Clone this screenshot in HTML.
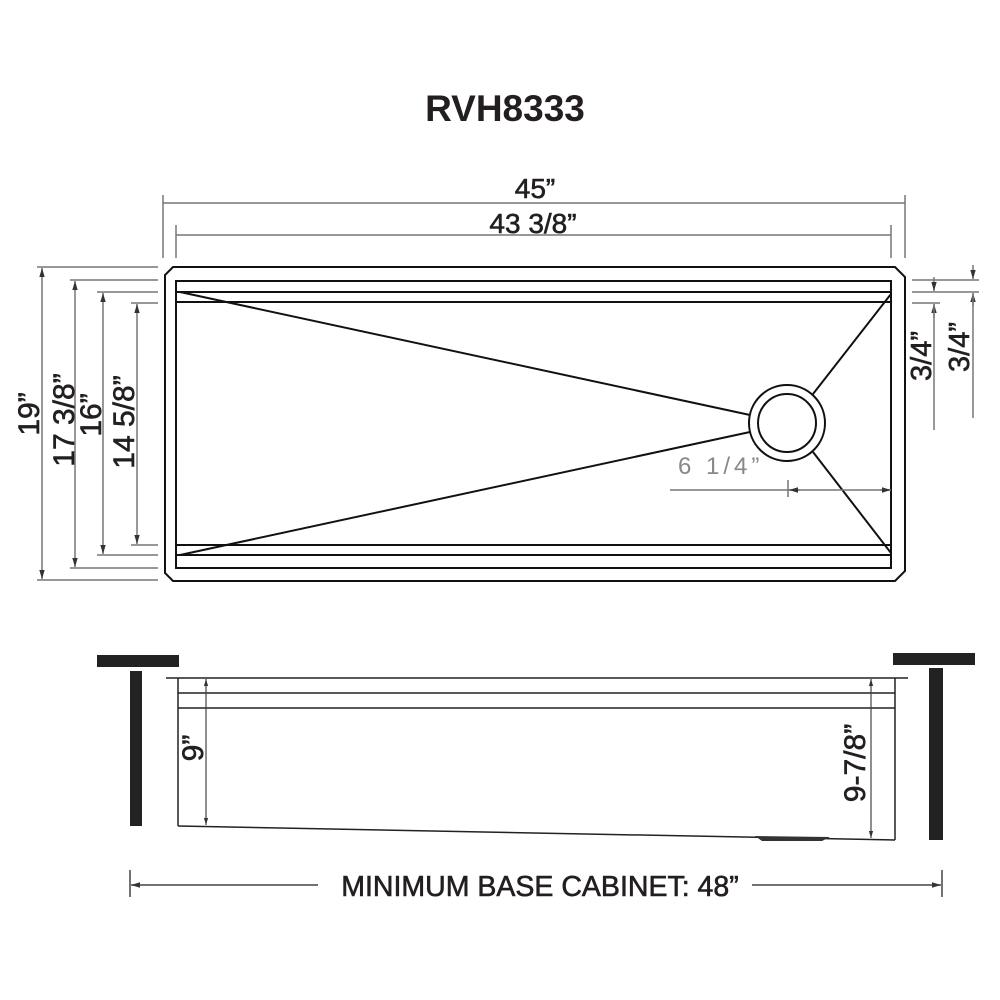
<!DOCTYPE html>
<html><head><meta charset="utf-8"><style>
html,body{margin:0;padding:0;background:#fff;}
svg{display:block;}
text{font-family:"Liberation Sans",sans-serif;fill:#231f20;}
.m{stroke:#231f20;stroke-width:0.6;}
</style></head><body>
<svg width="1000" height="1000" viewBox="0 0 1000 1000" xmlns="http://www.w3.org/2000/svg">
<defs>
<marker id="a" viewBox="0 0 10 10" refX="10" refY="5" markerWidth="6" markerHeight="6" orient="auto-start-reverse"><path d="M0,2 L10,5 L0,8 z" fill="#333"/></marker>
</defs>
<text x="505" y="121" font-size="37" font-weight="bold" text-anchor="middle">RVH8333</text>

<!-- top dims -->
<g stroke="#777" stroke-width="1.5" fill="none">
<line x1="163" y1="195" x2="163" y2="258"/><line x1="905" y1="195" x2="905" y2="258"/>
<line x1="163" y1="203" x2="905" y2="203"/>
<line x1="176" y1="225" x2="176" y2="258"/><line x1="891" y1="225" x2="891" y2="258"/>
<line x1="176" y1="235" x2="891" y2="235"/>
</g>
<text class="m" x="535" y="198" font-size="28" text-anchor="middle">45”</text>
<text class="m" x="533" y="233" font-size="28" text-anchor="middle">43 3/8”</text>

<!-- left dims -->
<g stroke="#777" stroke-width="1.5" fill="none">
<line x1="37" y1="267" x2="158" y2="267"/><line x1="37" y1="580" x2="158" y2="580"/>
<line x1="42" y1="268" x2="42" y2="579" marker-start="url(#a)" marker-end="url(#a)"/>
<line x1="70" y1="280" x2="158" y2="280"/><line x1="70" y1="568" x2="158" y2="568"/>
<line x1="75" y1="281" x2="75" y2="567" marker-start="url(#a)" marker-end="url(#a)"/>
<line x1="97" y1="292" x2="158" y2="292"/><line x1="97" y1="555" x2="158" y2="555"/>
<line x1="103" y1="293" x2="103" y2="554" marker-start="url(#a)" marker-end="url(#a)"/>
<line x1="131" y1="303" x2="158" y2="303"/><line x1="131" y1="545" x2="158" y2="545"/>
<line x1="137" y1="304" x2="137" y2="544" marker-start="url(#a)" marker-end="url(#a)"/>
</g>
<text class="m" font-size="30" text-anchor="middle" transform="translate(39,414) rotate(-90)">19”</text>
<text class="m" font-size="30" text-anchor="middle" transform="translate(74,420) rotate(-90)">17 3/8”</text>
<text class="m" font-size="30" text-anchor="middle" transform="translate(101,415) rotate(-90)">16”</text>
<text class="m" font-size="30" text-anchor="middle" transform="translate(134,422) rotate(-90)">14 5/8”</text>

<!-- right dims -->
<g stroke="#777" stroke-width="1.5" fill="none">
<line x1="912" y1="280" x2="979" y2="280"/>
<line x1="912" y1="292" x2="979" y2="292"/>
<line x1="912" y1="303" x2="940" y2="303"/>
<line x1="934" y1="277" x2="934" y2="291" marker-end="url(#a)"/>
<line x1="934" y1="318" x2="934" y2="304" marker-end="url(#a)"/>
<line x1="934" y1="304" x2="934" y2="430"/>
<line x1="973" y1="265" x2="973" y2="279" marker-end="url(#a)"/>
<line x1="973" y1="306" x2="973" y2="293" marker-end="url(#a)"/>
<line x1="973" y1="293" x2="973" y2="418"/>
</g>
<text class="m" font-size="29" text-anchor="middle" transform="translate(931,356) rotate(-90)">3/4”</text>
<text class="m" font-size="29" text-anchor="middle" transform="translate(969,347) rotate(-90)">3/4”</text>

<!-- top view sink -->
<g stroke="#111" stroke-width="2" fill="none">
<polygon points="173,267 895,267 905,277 905,571 895,581 173,581 165,573 165,275"/>
<rect x="176" y="281" width="715" height="287"/>
<line x1="176" y1="292" x2="891" y2="292"/>
<line x1="176" y1="302" x2="891" y2="302"/>
<line x1="176" y1="545" x2="891" y2="545"/>
<line x1="176" y1="555" x2="891" y2="555"/>
<line x1="180" y1="292" x2="750" y2="415"/>
<line x1="180" y1="555" x2="750" y2="432"/>
<line x1="891" y1="294" x2="813" y2="394"/>
<line x1="891" y1="553" x2="813" y2="452"/>
<circle cx="787" cy="423" r="38"/>
<circle cx="787" cy="423" r="29"/>
</g>
<text x="678" y="474" font-size="24" fill="#888" style="fill:#888;letter-spacing:4px">6 1/4”</text>
<g stroke="#777" stroke-width="1.5" fill="none">
<line x1="670" y1="490" x2="891" y2="490"/>
<line x1="788" y1="480" x2="788" y2="497"/>
<line x1="800" y1="490" x2="789" y2="490" marker-end="url(#a)"/>
<line x1="880" y1="490" x2="891" y2="490" marker-end="url(#a)"/>
</g>

<!-- side view -->
<rect x="97" y="655" width="82" height="12" fill="#222"/>
<rect x="130" y="671" width="12" height="155" fill="#222"/>
<rect x="893" y="653" width="82" height="12" fill="#222"/>
<rect x="929" y="668" width="14" height="172" fill="#222"/>
<g stroke="#222" stroke-width="1.5" fill="none">
<line x1="166" y1="678" x2="908" y2="678"/>
<line x1="178" y1="693" x2="895" y2="693"/>
<line x1="178" y1="708" x2="895" y2="708"/>
<line x1="178" y1="678" x2="178" y2="826"/>
<line x1="895" y1="678" x2="895" y2="840"/>
<line x1="178" y1="826" x2="895" y2="840"/>
</g>
<path d="M755,836 L830,837 L822,841 L762,841 z" fill="#333"/>
<g stroke="#444" stroke-width="1.2" fill="none">
<line x1="206" y1="679" x2="206" y2="825" marker-start="url(#a)" marker-end="url(#a)"/>
<line x1="871" y1="679" x2="871" y2="838" marker-start="url(#a)" marker-end="url(#a)"/>
</g>
<text class="m" font-size="30" text-anchor="middle" transform="translate(203,748) rotate(-90)">9”</text>
<text class="m" font-size="30" text-anchor="middle" transform="translate(865,763) rotate(-90)">9-7/8”</text>

<!-- bottom dim -->
<g stroke="#444" stroke-width="1.5" fill="none">
<line x1="130" y1="870" x2="130" y2="897"/>
<line x1="942" y1="870" x2="942" y2="897"/>
<line x1="131" y1="885" x2="318" y2="885" marker-start="url(#a)"/>
<line x1="752" y1="885" x2="941" y2="885" marker-end="url(#a)"/>
</g>
<text class="m" x="540" y="896" font-size="28.5" text-anchor="middle">MINIMUM BASE CABINET: 48”</text>
</svg>
</body></html>
